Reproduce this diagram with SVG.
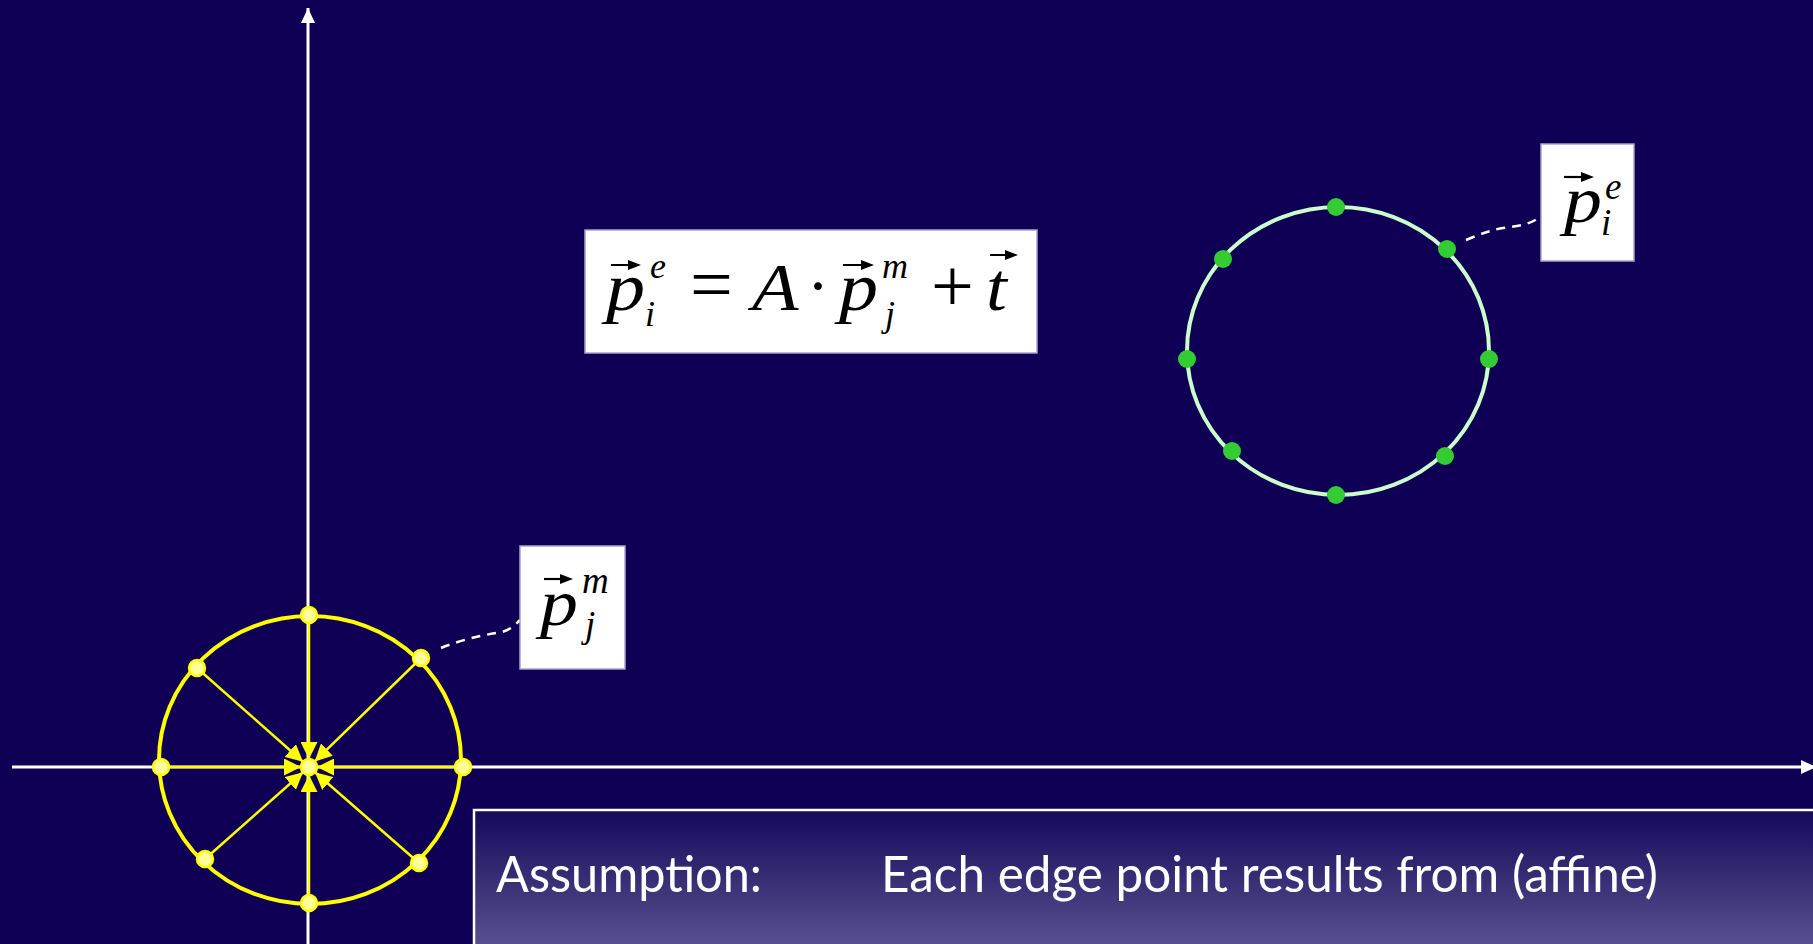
<svg xmlns="http://www.w3.org/2000/svg" width="1813" height="944" viewBox="0 0 1813 944">
<defs>
<style>
.axis{stroke:#ffffff;stroke-width:3;fill:none}
.yc{stroke:#ffff00;stroke-width:4;fill:none}
.spoke{stroke:#ffff00;stroke-width:2.5;fill:none}
.ydot{fill:#ffff99;stroke:#ffff00;stroke-width:2.5}
.gc{stroke:#ccffcc;stroke-width:4;fill:none}
.gdot{fill:#33cc33}
.lead{stroke:#ffffff;stroke-width:2.5;fill:none;stroke-dasharray:9,7}
.box{fill:#ffffff;stroke:#aaa3cc;stroke-width:1.5}
.mi{font-family:'Liberation Serif','Times New Roman','DejaVu Serif',serif;font-style:italic;fill:#000000}
.mo{font-family:'Liberation Serif','Times New Roman','DejaVu Serif',serif;fill:#000000}
.vec{stroke:#000000;stroke-width:2.2;fill:none}
.vh{fill:#000000}
.note{font-family:Lato,'Open Sans',sans-serif;fill:#ffffff;font-size:50px}
</style>
<marker id="ah" markerUnits="userSpaceOnUse" markerWidth="17" markerHeight="17" refX="17" refY="8.5" orient="auto">
<path d="M0,0 L17,8.5 L0,17 z" fill="#ffff00"/>
</marker>
<marker id="wa" markerUnits="userSpaceOnUse" markerWidth="16" markerHeight="16" refX="15" refY="8" orient="auto">
<path d="M0,1 L15,8 L0,15 z" fill="#ffffff"/>
</marker>
<linearGradient id="bg2" x1="0" y1="0" x2="0" y2="1">
<stop offset="0" stop-color="#140a5c"/>
<stop offset="1" stop-color="#5f5893"/>
</linearGradient>
</defs>
<rect width="1813" height="944" fill="#0f0055"/>

<g id="axes">
<line class="axis" x1="12" y1="767" x2="1816" y2="767" marker-end="url(#wa)"/>
<line class="axis" x1="308" y1="944" x2="308" y2="8" marker-end="url(#wa)"/>
</g>

<g id="model-contour">
<ellipse class="yc" cx="310" cy="760" rx="151" ry="144"/>
</g>

<g id="connectors">
<line class="spoke" x1="309" y1="615" x2="309" y2="759" marker-end="url(#ah)"/>
<line class="spoke" x1="309" y1="903" x2="309" y2="775" marker-end="url(#ah)"/>
<line class="spoke" x1="161" y1="767" x2="301" y2="767" marker-end="url(#ah)"/>
<line class="spoke" x1="463" y1="767" x2="317" y2="767" marker-end="url(#ah)"/>
<line class="spoke" x1="197" y1="668" x2="303" y2="761.7" marker-end="url(#ah)"/>
<line class="spoke" x1="421" y1="658" x2="314.7" y2="761.4" marker-end="url(#ah)"/>
<line class="spoke" x1="205" y1="859" x2="303" y2="772.3" marker-end="url(#ah)"/>
<line class="spoke" x1="419" y1="863" x2="315" y2="772.3" marker-end="url(#ah)"/>
<path class="lead" d="M441,648 C465,638 490,634 502,632 C510,630 515,625 520,620"/>
<path class="lead" d="M1466,240 C1480,234 1495,229 1503,228 C1520,226 1532,224 1541,216"/>
</g>

<g id="model-points">
<circle class="ydot" cx="309" cy="615" r="8"/>
<circle class="ydot" cx="421" cy="658" r="8"/>
<circle class="ydot" cx="463" cy="767" r="8"/>
<circle class="ydot" cx="419" cy="863" r="8"/>
<circle class="ydot" cx="309" cy="903" r="8"/>
<circle class="ydot" cx="205" cy="859" r="8"/>
<circle class="ydot" cx="161" cy="767" r="8"/>
<circle class="ydot" cx="197" cy="668" r="8"/>
<circle class="ydot" cx="309" cy="767" r="8"/>
</g>

<g id="edge-contour">
<ellipse class="gc" cx="1338" cy="351" rx="151" ry="144"/>
<circle class="gdot" cx="1336" cy="207" r="9"/>
<circle class="gdot" cx="1447" cy="249" r="9"/>
<circle class="gdot" cx="1489" cy="359" r="9"/>
<circle class="gdot" cx="1445" cy="456" r="9"/>
<circle class="gdot" cx="1336" cy="495" r="9"/>
<circle class="gdot" cx="1232" cy="451" r="9"/>
<circle class="gdot" cx="1187" cy="359" r="9"/>
<circle class="gdot" cx="1223" cy="259" r="9"/>
</g>

<g id="formula">
<rect class="box" x="585" y="230" width="452" height="123"/>
<text class="mi" transform="translate(606,310) scale(1.15,1)" font-size="68">p</text>
<text class="mi" x="650" y="278" font-size="36">e</text>
<text class="mi" x="645" y="326" font-size="36">i</text>
<text class="mo" x="690" y="310" font-size="76">=</text>
<text class="mi" transform="translate(752,310) scale(1.12,1)" font-size="68">A</text>
<text class="mo" x="818" y="308" font-size="66" text-anchor="middle">·</text>
<text class="mi" transform="translate(839,310) scale(1.15,1)" font-size="68">p</text>
<text class="mi" x="882" y="278" font-size="36">m</text>
<text class="mi" x="885" y="326" font-size="36">j</text>
<text class="mo" x="931" y="311" font-size="76">+</text>
<text class="mi" transform="translate(986,310) scale(1.1,1)" font-size="68">t</text>
<path class="vec" d="M611,265 H630 M843,265 H862 M990,255 H1006"/>
<path class="vh" d="M641,265 L628,260 L628,270 z M874,265 L861,260 L861,270 z M1018,255 L1005,250 L1005,260 z"/>
</g>

<g id="label-edge">
<rect class="box" x="1541" y="144" width="93" height="117"/>
<text class="mi" transform="translate(1564,222) scale(1.15,1)" font-size="66">p</text>
<text class="mi" x="1605" y="199" font-size="37">e</text>
<text class="mi" x="1601" y="235" font-size="37">i</text>
<path class="vec" d="M1564,177 H1583"/>
<path class="vh" d="M1594,177 L1581,172 L1581,182 z"/>
</g>

<g id="label-model">
<rect class="box" x="520" y="546" width="105" height="123"/>
<text class="mi" transform="translate(540,625) scale(1.15,1)" font-size="66">p</text>
<text class="mi" x="582" y="593" font-size="37">m</text>
<text class="mi" x="585" y="637" font-size="37">j</text>
<path class="vec" d="M544,579 H562"/>
<path class="vh" d="M573,579 L560,574 L560,584 z"/>
</g>

<g id="note">
<rect x="474" y="810" width="1350" height="150" fill="url(#bg2)" stroke="#ffffff" stroke-width="2.5"/>
<text class="note" x="496" y="892" textLength="266" lengthAdjust="spacingAndGlyphs">Assumption:</text>
<text class="note" x="881" y="892" textLength="777" lengthAdjust="spacingAndGlyphs">Each edge point results from (affine)</text>
</g>
</svg>
